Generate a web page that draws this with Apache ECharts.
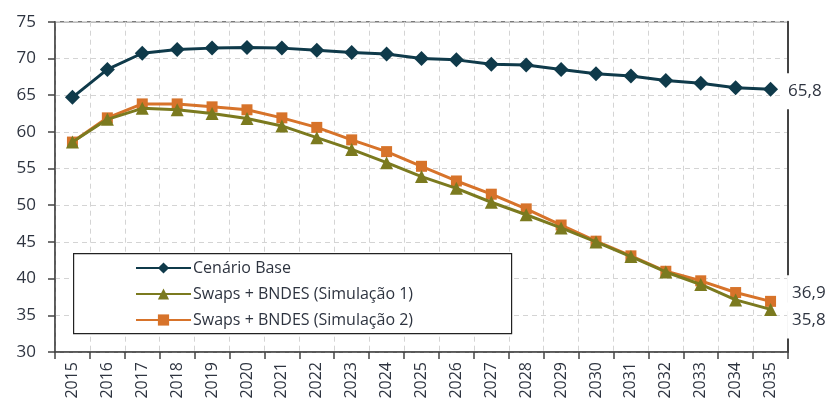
<!DOCTYPE html>
<html><head><meta charset="utf-8">
<script src="https://cdn.jsdelivr.net/npm/echarts@6/dist/echarts.min.js"></script>
<style>html,body{margin:0;padding:0;background:#fff}#c{width:835px;height:409px}</style>
</head><body><div id="c"></div>
<script>
const years = ['2015','2016','2017','2018','2019','2020','2021','2022','2023','2024','2025','2026','2027','2028','2029','2030','2031','2032','2033','2034','2035'];
const base = [64.7,68.5,70.7,71.2,71.4,71.5,71.4,71.1,70.8,70.6,70.0,69.8,69.2,69.1,68.5,67.9,67.6,67.0,66.6,66.0,65.8];
const sim1 = [58.6,61.7,63.2,63.0,62.5,61.8,60.8,59.2,57.6,55.8,53.9,52.3,50.4,48.7,46.9,45.0,43.0,40.9,39.2,37.1,35.8];
const sim2 = [58.6,61.9,63.8,63.8,63.4,63.0,61.9,60.6,58.9,57.3,55.3,53.3,51.5,49.5,47.3,45.1,43.1,41.0,39.7,38.1,36.9];
const names = ['Cenário Base','Swaps + BNDES (Simulação 1)','Swaps + BNDES (Simulação 2)'];
const yTicks = {min:30, max:75, interval:5};

const FONT = 'Open Sans';
const TXT = '#2e3440';
function withEndLabel(arr, lab){
  return arr.map((v,i)=> i===arr.length-1 ? {value:v, label:Object.assign({show:true, formatter:p=>String(p.value).replace('.',','),
    color:TXT, fontFamily:FONT, fontSize:17, backgroundColor:'#fff', padding:[8,2,8,5], lineHeight:20}, lab)} : v);
}
const chart = echarts.init(document.getElementById('c'));
chart.setOption({
  animation:false,
  grid:{left:55, right:47, top:21.7, bottom:57, show:true, borderColor:'#7a7a7a', borderWidth:1.5},
  legend:{
    orient:'vertical', left:135, top:259, padding:0, itemWidth:55, itemHeight:14, itemGap:8, z:10,
    textStyle:{fontFamily:FONT, fontSize:16, color:TXT, lineHeight:18, padding:[0,0,0,-3]},
    data:names
  },
  graphic:[{type:'rect', left:73, top:253, z:5, shape:{width:438, height:80}, style:{fill:'#fff', stroke:'#222', lineWidth:1.2}}],
  xAxis:{
    type:'category', data:years, boundaryGap:true,
    axisLine:{lineStyle:{color:'#444', width:1.5}},
    axisTick:{show:true, length:7, lineStyle:{color:'#444', width:1.5}},
    axisLabel:{rotate:90, margin:10, fontFamily:FONT, fontSize:16, color:TXT, interval:0},
    splitLine:{show:true, lineStyle:{color:'#d4d4d4', type:[5,4], width:1}}
  },
  yAxis:[{
    type:'value', min:yTicks.min, max:yTicks.max, interval:yTicks.interval,
    axisLine:{show:true, lineStyle:{color:'#444', width:1.5}},
    axisTick:{show:true, length:7, lineStyle:{color:'#444', width:1.5}},
    axisLabel:{margin:19, fontFamily:FONT, fontSize:17, color:TXT},
    splitLine:{show:true, lineStyle:{color:'#d4d4d4', type:[5,4], width:1}}
  },{
    type:'value', position:'right', min:yTicks.min, max:yTicks.max, interval:yTicks.interval,
    axisLine:{show:true, lineStyle:{color:'#444', width:2}},
    axisTick:{show:false}, axisLabel:{show:false}, splitLine:{show:false}
  }],
  series:[
    {name:names[0], type:'line', data:withEndLabel(base,{position:'right', distance:5, offset:[0,2]}),
     symbol:'diamond', symbolSize:15, lineStyle:{color:'#0f3a4a', width:3}, itemStyle:{color:'#0f3a4a'}, z:4},
    {name:names[1], type:'line', data:withEndLabel(sim1,{position:'right', distance:10, offset:[0,11]}),
     symbol:'triangle', symbolSize:13, lineStyle:{color:'#7b7a1f', width:3}, itemStyle:{color:'#7b7a1f'}, z:3},
    {name:names[2], type:'line', data:withEndLabel(sim2,{position:'right', distance:11, offset:[0,-8]}),
     symbol:'rect', symbolSize:11, lineStyle:{color:'#d7732a', width:3}, itemStyle:{color:'#d7732a'}, z:2}
  ]
});
</script></body></html>
